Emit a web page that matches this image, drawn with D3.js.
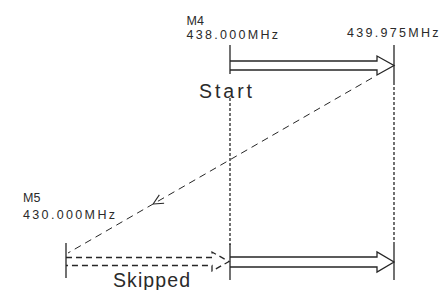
<!DOCTYPE html>
<html><head><meta charset="utf-8">
<script src="https://cdn.jsdelivr.net/npm/d3@7"></script>
<style>
html,body{margin:0;padding:0;background:#fff;}
svg{display:block;}
text{font-family:"Liberation Sans",Arial,sans-serif;fill:#2a2a2a;}
</style></head>
<body>
<script>
// ---- data ----
const markerNames = ["M5", "M4", ""];
const frequencies = ["430.000", "438.000", "439.975"];
const freqUnit = "MHz";
const sweepLabels = ["Start", "Skipped"];

const W = 439, H = 290;
const svg = d3.select("body").append("svg").attr("width", W).attr("height", H);

const x = d3.scalePoint().domain(frequencies).range([66, 394]);
const y = d3.scaleLinear().domain([0, 290]).range([0, 290]);

const ink = "#262626";
const g = svg.append("g").attr("stroke", ink).attr("fill", "none").attr("stroke-width", 1.3);

const xM5 = x(frequencies[0]), xM4 = x(frequencies[1]), xEnd = x(frequencies[2]);

// vertical marker lines
function vline(xx, y0, y1, dash) {
  g.append("line").attr("x1", xx).attr("x2", xx).attr("y1", y(y0)).attr("y2", y(y1))
    .attr("stroke-dasharray", dash || null);
}
vline(xM4, 45, 74);
vline(xM4, 98, 245, "3,2");
vline(xM4, 244, 280);
vline(xEnd, 45, 82);
vline(xEnd, 82, 242, "3,2");
vline(xEnd, 242, 280);
vline(xM5, 243, 278);

// hollow arrows
function hollowArrow(x0, x1, yc, half, headHalf, headLen, dash) {
  const pts = [
    [x0, yc - half], [x1 - headLen, yc - half], [x1 - headLen, yc - headHalf],
    [x1, yc], [x1 - headLen, yc + headHalf], [x1 - headLen, yc + half], [x0, yc + half]
  ];
  g.append("path").attr("d", d3.line()(pts.map(p => [p[0], y(p[1])])))
    .attr("stroke-dasharray", dash || null)
    .attr("stroke-linejoin", "miter");
}
hollowArrow(xM4, xEnd, 65.5, 4.5, 9.5, 17);
hollowArrow(xM4, xEnd, 262, 5, 10, 17);
hollowArrow(xM5, xM4 - 1, 261.5, 4, 9.5, 17, "6,4");

// diagonal return (dashed)
const d0 = [372, 78], d1 = [68, 253];
g.append("line").attr("x1", d0[0]).attr("y1", y(d0[1])).attr("x2", d1[0]).attr("y2", y(d1[1]))
  .attr("stroke-dasharray", "7,5").attr("stroke-width", 1);
// arrowhead
const t = 0.72;
const ax = d0[0] + (d1[0] - d0[0]) * t, ay = d0[1] + (d1[1] - d0[1]) * t;
const ang = Math.atan2(d0[1] - d1[1], d0[0] - d1[0]);
[0.45, -0.45].forEach(da => {
  g.append("line").attr("x1", ax).attr("y1", y(ay))
    .attr("x2", ax + 11 * Math.cos(ang + da)).attr("y2", y(ay + 11 * Math.sin(ang + da)))
    .attr("stroke-width", 1.1);
});

// labels
const small = 12.5;
function label(txt, xx, yy, size, len) {
  const t = svg.append("text").attr("x", xx).attr("y", y(yy)).attr("font-size", size).text(txt);
  if (len) t.attr("textLength", len).attr("lengthAdjust", "spacing");
  return t;
}
label(markerNames[1], 186.5, 24.7, small);
label(frequencies[1] + freqUnit, 186.5, 38.5, small, 91.5);
label(frequencies[2] + freqUnit, 347, 37, small, 91.5);
label(markerNames[0], 23, 202, small);
label(frequencies[0] + freqUnit, 23, 219, small, 92);
label(sweepLabels[0], 199, 97.5, 19.5, 53);
label(sweepLabels[1], 113, 286.5, 19.5, 77);
</script>
</body></html>
